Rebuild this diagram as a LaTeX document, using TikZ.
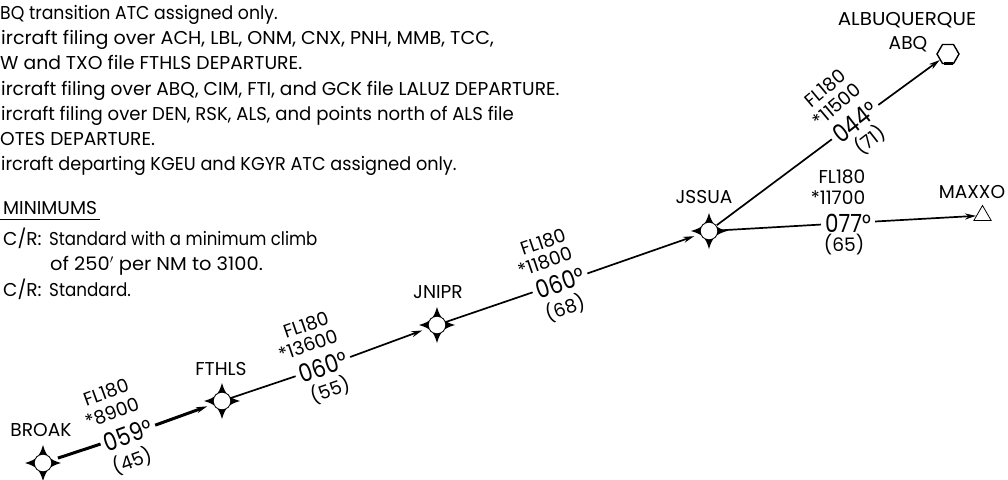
\documentclass[tikz,border=0pt]{standalone}
\usepackage{fontspec}
\setmainfont{Poppins}
\newfontfamily\hdgfont[FakeStretch=0.86]{Poppins}
\usetikzlibrary{shapes.geometric,arrows.meta}
\newcommand{\bodysz}{\fontsize{18.6}{20}\selectfont}
\newcommand{\hdgsz}{\hdgfont\fontsize{25}{28}\selectfont}
\newcommand{\sqz}[2]{\scalebox{#1}[1]{#2}}
\tikzset{
  x=1pt,y=-1pt,
  bodytext/.style={anchor=base west,inner sep=0pt,font=\bodysz},
  fixname/.style={anchor=base,inner sep=0pt,font=\bodysz},
  legtext/.style={anchor=center,inner sep=0pt,font=\bodysz},
  hdgtext/.style={anchor=center,inner xsep=4pt,inner ysep=0pt,font=\hdgsz},
  wpt/.style={circle,inner sep=0pt,minimum size=31pt},
  leg/.style={line width=1.7pt,black},
  thickleg/.style={line width=3pt,black},
  tip/.style={-{Stealth[length=11pt,width=6pt]}},
  overshoot/.style={shorten <=-6pt}
}
\begin{document}
\begin{tikzpicture}
\useasboundingbox (0,0) rectangle (1008,479);
% notes
\node[bodytext] (n1) at (0,19) {\sqz{0.93}{BQ transition ATC assigned only.}};
\node[bodytext] (n2) at (1,44) {\sqz{1.027}{ircraft filing over ACH, LBL, ONM, CNX, PNH, MMB, TCC,}};
\node[bodytext] (n3) at (0,69) {\sqz{1.01}{W and TXO file FTHLS DEPARTURE.}};
\node[bodytext] (n4) at (1,95) {ircraft filing over ABQ, CIM, FTI, and GCK file LALUZ DEPARTURE.};
\node[bodytext] (n5) at (1,120) {\sqz{0.973}{ircraft filing over DEN, RSK, ALS, and points north of ALS file}};
\node[bodytext] (n6) at (0,145) {OTES DEPARTURE.};
\node[bodytext] (n7) at (1,170) {\sqz{0.95}{ircraft departing KGEU and KGYR ATC assigned only.}};
\node[bodytext] (m0) at (3,214) {MINIMUMS};
\coordinate (ula) at (0,219);
\coordinate (ulb) at (100,219);
\draw[line width=0.9pt] (ula) -- (ulb);
\node[bodytext] (m1) at (3,245) {C/R:};
\node[bodytext] (m1b) at (49,245) {\sqz{0.893}{Standard with a minimum climb}};
\node[bodytext] (m2) at (50,270) {\sqz{1.044}{of 250$'$ per NM to 3100.}};
\node[bodytext] (m3) at (3,296) {C/R:};
\node[bodytext] (m3b) at (49,296) {\sqz{0.9}{Standard.}};
% fixes
\node[wpt] (broak) at (43,463) {};
\node[wpt] (fthls) at (222,401) {};
\node[wpt] (jnipr) at (437,325) {};
\node[wpt] (jssua) at (709,231) {};
\node[regular polygon,regular polygon sides=3,draw,line width=0.8pt,inner sep=0pt,minimum size=20pt] (maxxo) at (982.5,215.5) {};
\node[regular polygon,regular polygon sides=6,shape border rotate=0,draw,fill=white,line width=1.4pt,inner sep=0pt,minimum size=22pt] (abq) at (948,54) {};
\node[fixname] (lbroak) at (41,436) {BROAK};
\node[fixname] (lfthls) at (221,375) {FTHLS};
\node[fixname] (ljnipr) at (438,298) {JNIPR};
\node[fixname] (ljssua) at (704,203) {JSSUA};
\node[fixname] (lmaxxo) at (972,198) {MAXXO};
\node[fixname] (lalb) at (907,25) {\sqz{1.07}{ALBUQUERQUE}};
\node[fixname] (labq) at (908,49) {ABQ};
% leg labels
\node[legtext,rotate=20] (a1) at (106,392) {FL180};
\node[legtext,rotate=20] (a2) at (112,413) {*8900};
\node[hdgtext,rotate=20] (a3) at (128,435) {059°};
\node[legtext,rotate=20] (a4) at (132,461) {(45)};
\node[legtext,rotate=19] (b1) at (306,325) {FL180};
\node[legtext,rotate=19] (b2) at (308,345) {*13600};
\node[hdgtext,rotate=19] (b3) at (323,367) {060°};
\node[legtext,rotate=19] (b4) at (330,390) {(55)};
\node[legtext,rotate=19] (c1) at (543,242) {FL180};
\node[legtext,rotate=19] (c2) at (545,262) {*11800};
\node[hdgtext,rotate=19] (c3) at (560,283) {060°};
\node[legtext,rotate=19] (c4) at (565,308) {(68)};
\node[legtext,rotate=40] (d1) at (825,88) {FL180};
\node[legtext,rotate=40] (d2) at (837,105) {*11500};
\node[hdgtext,rotate=38] (d3) at (855,122) {044°};
\node[legtext,rotate=38] (d4) at (870,140) {(71)};
\node[legtext] (e1) at (842,177) {FL180};
\node[legtext] (e2) at (838,198) {*11700};
\node[hdgtext] (e3) at (848,223) {077°};
\node[legtext] (e4) at (844,245) {(65)};
% connectors
\draw[thickleg] (broak) -- (a3);
\draw[thickleg,tip] (a3) -- (fthls);
\draw[leg,overshoot] (fthls) -- (b3);
\draw[leg,tip] (b3) -- (jnipr);
\draw[leg,overshoot] (jnipr) -- (c3);
\draw[leg,tip] (c3) -- (jssua);
\draw[leg,overshoot] (jssua) -- (d3);
\draw[leg,tip] (d3) -- (abq);
\draw[leg,overshoot] (jssua) -- (e3);
\draw[leg,tip] (e3) -- (maxxo);
% symbols
\foreach \p in {broak,fthls,jnipr,jssua}{
  \fill[black,shift={(\p)}] (0,-18) .. controls (2.2,-11) and (3.5,-7.5) .. (6.6,-6.6)
    .. controls (7.5,-3.5) and (11,-2.2) .. (18,0)
    .. controls (11,2.2) and (7.5,3.5) .. (6.6,6.6)
    .. controls (3.5,7.5) and (2.2,11) .. (0,18)
    .. controls (-2.2,11) and (-3.5,7.5) .. (-6.6,6.6)
    .. controls (-7.5,3.5) and (-11,2.2) .. (-18,0)
    .. controls (-11,-2.2) and (-7.5,-3.5) .. (-6.6,-6.6)
    .. controls (-3.5,-7.5) and (-2.2,-11) .. (0,-18) -- cycle;
  \fill[white,shift={(\p)}] (0,0) circle (8.2);
}
\fill[black] ([xshift=-4.5pt,yshift=2pt]abq.south) rectangle ([xshift=4.5pt,yshift=-1pt]abq.south);
\end{tikzpicture}
\end{document}
